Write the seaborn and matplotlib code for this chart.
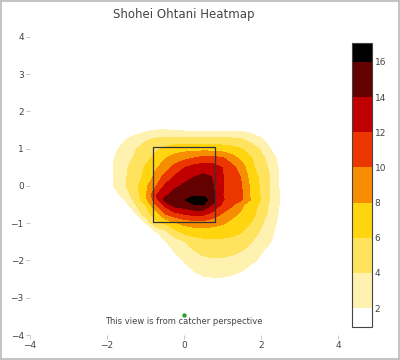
import numpy as np
import matplotlib
matplotlib.use('Agg')
import matplotlib.pyplot as plt
from matplotlib.colors import LinearSegmentedColormap
import seaborn as sns

# density grid (columns = plate_x, rows = plate_z, top row first)
plate_x = [-2.25, -2.0, -1.75, -1.5, -1.25, -1.0, -0.75, -0.5, -0.25, 0.0, 0.25,
           0.5, 0.75, 1.0, 1.25, 1.5, 1.75, 2.0, 2.25, 2.5, 2.75]
plate_z = [1.75, 1.5, 1.25, 1.0, 0.75, 0.5, 0.25, 0.0, -0.25, -0.375, -0.5,
           -0.75, -1.0, -1.25, -1.5, -1.75, -2.0, -2.25, -2.5, -2.75]
density = [
    [0, 0, 0, 0, 0, 0, 0, 0, 0, 0, 0, 0, 0, 0, 0, 0, 0, 0, 0, 0, 0],
    [0, 0, 0, 0.3, 1.0, 1.6, 2.0, 2.1, 1.9, 1.7, 1.6, 1.6, 1.7, 1.7, 1.7, 1.6, 1.2, 0.6, 0, 0, 0],
    [0, 0, 0.8, 2.0, 2.9, 3.7, 4.3, 4.6, 4.7, 4.75, 4.75, 4.75, 4.7, 4.6, 4.4, 4.1, 3.3, 2.3, 1.2, 0.2, 0],
    [0, 0.6, 1.8, 2.8, 3.9, 4.8, 5.5, 6.3, 6.9, 7.2, 7.25, 7.2, 7.1, 6.9, 6.6, 6.05, 5.0, 3.8, 1.95, 0.8, 0],
    [0, 1.0, 2.3, 3.4, 4.3, 5.3, 6.6, 7.8, 8.8, 9.4, 10.0, 10.6, 10.6, 10.2, 8.8, 7.4, 6.1, 4.6, 3.0, 1.2, 0],
    [0, 1.1, 2.5, 3.8, 5.0, 6.2, 7.6, 9.0, 10.6, 11.9, 12.7, 13.1, 12.9, 11.95, 10.6, 8.9, 6.5, 5.0, 3.6, 1.5, 0],
    [0, 1.1, 2.5, 3.9, 5.2, 6.4, 8.5, 10.6, 12.1, 13.1, 13.9, 14.4, 13.9, 12.1, 10.9, 9.8, 6.9, 5.6, 3.8, 1.6, 0],
    [0, 1.1, 2.5, 4.0, 5.5, 7.5, 9.6, 12.2, 13.5, 14.4, 15.0, 15.2, 14.1, 12.1, 11.0, 10.05, 7.4, 5.7, 3.8, 1.7, 0],
    [0, 0.2, 1.4, 3.2, 5.0, 7.6, 11.8, 13.6, 14.9, 15.3, 15.8, 15.8, 14.5, 12.05, 11.0, 10.1, 7.6, 5.8, 3.7, 1.8, 0],
    [0, 0, 0.5, 2.2, 4.8, 7.4, 10.8, 14.6, 15.0, 15.9, 16.8, 17.05, 14.8, 12.2, 11.0, 10.1, 7.7, 5.9, 3.7, 1.8, 0],
    [0, 0, 0, 1.6, 4.0, 6.0, 9.7, 12.6, 14.9, 15.2, 15.95, 16.1, 13.9, 11.6, 10.4, 8.4, 6.8, 5.6, 3.5, 1.8, 0],
    [0, 0, 0, 0, 1.8, 5.4, 6.6, 9.9, 11.2, 12.1, 12.6, 12.5, 11.3, 9.8, 8.6, 7.6, 6.6, 5.2, 3.3, 1.6, 0],
    [0, 0, 0, 0, 0, 1.8, 5.6, 6.1, 7.7, 8.5, 8.9, 9.0, 8.7, 8.2, 7.4, 6.5, 5.9, 4.3, 2.9, 1.3, 0],
    [0, 0, 0, 0, 0, 0, 1.5, 3.3, 5.0, 6.4, 6.8, 6.9, 6.9, 6.8, 6.6, 6.0, 5.0, 3.7, 2.5, 0.9, 0],
    [0, 0, 0, 0, 0, 0, 0.5, 1.8, 3.0, 3.8, 4.9, 5.4, 5.6, 5.5, 5.2, 4.7, 4.05, 3.0, 2.05, 0.6, 0],
    [0, 0, 0, 0, 0, 0, 0, 0.3, 2.1, 3.0, 3.9, 4.5, 4.7, 4.6, 4.4, 4.0, 3.2, 2.3, 0.9, 0, 0],
    [0, 0, 0, 0, 0, 0, 0, 0, 1.0, 2.2, 3.0, 3.5, 3.7, 3.7, 3.5, 3.0, 2.5, 1.5, 0.3, 0, 0],
    [0, 0, 0, 0, 0, 0, 0, 0, 0, 0.8, 2.1, 2.6, 2.8, 2.7, 2.5, 2.15, 1.3, 0.4, 0, 0, 0],
    [0, 0, 0, 0, 0, 0, 0, 0, 0, 0, 1.3, 1.7, 1.8, 1.8, 1.6, 1.0, 0.3, 0, 0, 0, 0],
    [0, 0, 0, 0, 0, 0, 0, 0, 0, 0, 0, 0, 0, 0, 0, 0, 0, 0, 0, 0, 0],
]
levels = [0.94, 2, 4, 6, 8, 10, 12, 14, 16, 17.1]
cbar_ticks = [2, 4, 6, 8, 10, 12, 14, 16]

zone_x = [-0.8, 0.8]
zone_z = [-0.97, 1.04]
marker_x = [0.0]
marker_z = [-3.45]
note = 'This view is from catcher perspective'
title = 'Shohei Ohtani Heatmap'

sns.set_theme(style='white')
plt.rcParams['font.family'] = ['DejaVu Sans']

# reversed "Hot" scale, sampled at the middle of each band
hot_r = LinearSegmentedColormap.from_list(
    'hot_r', [(0.0, '#ffffff'), (0.4, '#ffd200'), (0.7, '#e60000'), (1.0, '#000000')])
lo, hi = levels[0], levels[-1]
band_colors = [hot_r(((a + b) / 2 - lo) / (hi - lo)) for a, b in zip(levels[:-1], levels[1:])]
band_colors[0] = '#ffffff'
band_colors[-1] = '#000000'

fig = plt.figure(figsize=(4, 3.6), dpi=100)
fig.patch.set_edgecolor('#c4c4c4')
fig.patch.set_linewidth(1.5)
ax = fig.add_axes([0.075, 0.0694, 0.77, 0.828])
cax = fig.add_axes([0.88, 0.0925, 0.05, 0.789])

z = np.array(density)[::-1]
zs = np.array(plate_z)[::-1]
cs = ax.contourf(plate_x, zs, z, levels=levels, colors=band_colors)

# strike zone
ax.plot([zone_x[0], zone_x[1], zone_x[1], zone_x[0], zone_x[0]],
        [zone_z[0], zone_z[0], zone_z[1], zone_z[1], zone_z[0]],
        color='#333333', lw=0.9)
sns.scatterplot(x=marker_x, y=marker_z, color='#2ca02c', s=10, linewidth=0, ax=ax)
ax.text(marker_x[0], marker_z[0] - 0.2, note, ha='center', va='center',
        fontsize=6, color='#444444')

ax.set_xlim(-4, 4)
ax.set_ylim(-4, 4)
ax.set_xticks([-4, -2, 0, 2, 4])
ax.set_yticks(range(-4, 5))
ax.tick_params(bottom=True, left=True, direction='out', length=3, width=0.6,
               color='#bbbbbb', labelsize=6.5, labelcolor='#444444', pad=1.5)
sns.despine(ax=ax, left=True, bottom=True)
ax.grid(False)

cb = fig.colorbar(cs, cax=cax, ticks=cbar_ticks, spacing='proportional')
cb.outline.set_edgecolor('#444444')
cb.outline.set_linewidth(0.8)
cb.ax.tick_params(right=True, length=0, labelsize=6.5, labelcolor='#444444', pad=2)

fig.text(0.46, 0.961, title, ha='center', va='center', fontsize=8.5, color='#444444')

fig.savefig('out.png', dpi=100, facecolor='white', edgecolor=fig.get_edgecolor())
